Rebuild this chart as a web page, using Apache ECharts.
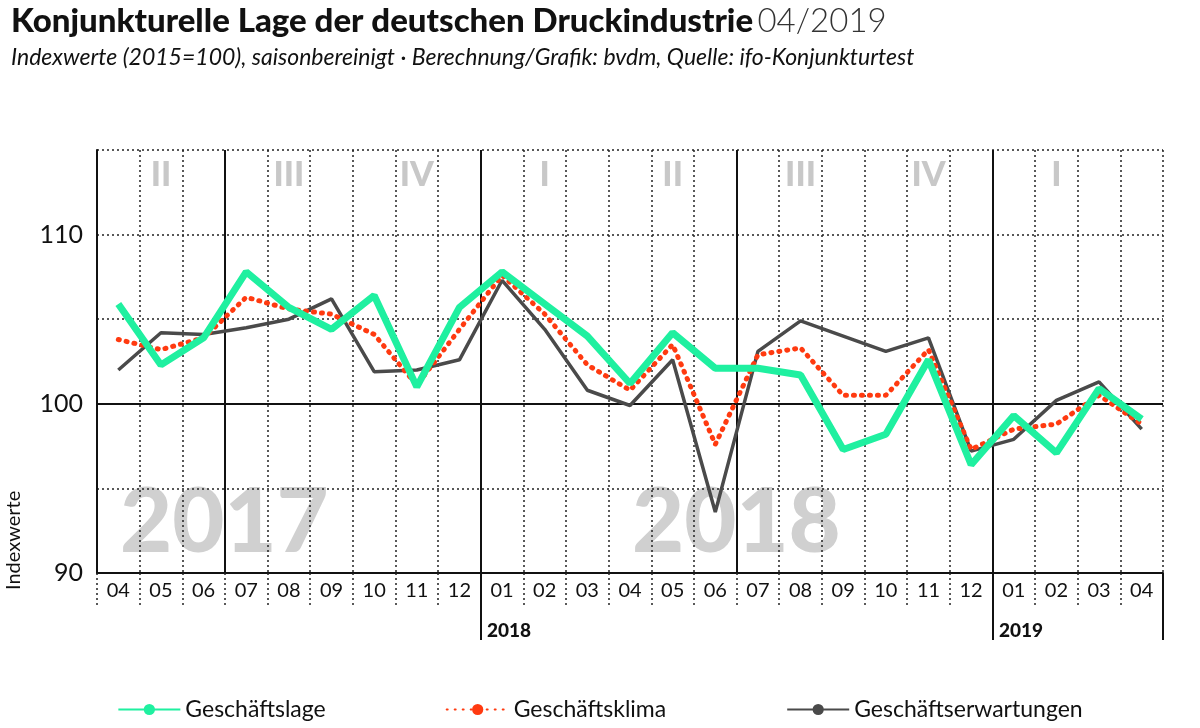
<!DOCTYPE html>
<html><head><meta charset="utf-8">
<script src="https://cdn.jsdelivr.net/npm/echarts@6/dist/echarts.min.js"></script>
<style>html,body{margin:0;background:#fff}#c{width:1200px;height:728px}</style></head>
<body><div id="c"></div>
<script>
const months=['04','05','06','07','08','09','10','11','12','01','02','03','04','05','06','07','08','09','10','11','12','01','02','03','04'];
const quarterLabels={1:'II',4:'III',7:'IV',10:'I',13:'II',16:'III',19:'IV',22:'I'};
const lage=[105.9,102.3,103.9,107.8,105.7,104.4,106.4,101.0,105.7,107.8,105.9,104.0,101.2,104.2,102.1,102.1,101.7,97.3,98.2,102.6,96.4,99.3,97.1,100.9,99.1];
const klima=[103.8,103.2,103.9,106.3,105.6,105.3,104.1,101.1,104.4,107.6,105.3,102.3,100.8,103.5,97.6,102.9,103.3,100.5,100.5,103.2,97.3,98.5,98.8,100.5,98.8];
const erw=[102.0,104.2,104.1,104.5,105.0,106.2,101.9,102.0,102.6,107.3,104.4,100.8,99.9,102.6,93.6,103.1,104.9,104.0,103.1,103.9,97.2,97.9,100.2,101.3,98.5];
const quarterBounds=[3,9,15,21];
const F='Lato, "Noto Sans", sans-serif';
const pts=a=>a.map((v,i)=>[i+0.5,v]);
const chart=echarts.init(document.getElementById('c'));
chart.setOption({
 animation:false,
 textStyle:{fontFamily:F},
 title:{left:6,top:0,text:'{b|Konjunkturelle Lage der deutschen Druckindustrie} {l|04/2019}',
  subtext:'Indexwerte (2015=100), saisonbereinigt · Berechnung/Grafik: bvdm, Quelle: ifo-Konjunkturtest',
  textStyle:{rich:{b:{fontSize:33,fontWeight:900,color:'#111',fontFamily:F},l:{fontSize:33,fontWeight:300,color:'#333',fontFamily:F}}},
  subtextStyle:{fontSize:23,fontStyle:'italic',color:'#111',fontFamily:F},itemGap:8},
 graphic:[
  {type:'text',left:120,top:478,z:0,style:{text:'2017',font:'900 90px '+F,fill:'#d0d0d0'}},
  {type:'text',left:632,top:478,z:0,style:{text:'2018',font:'900 90px '+F,fill:'#d0d0d0'}},
  {type:'text',left:487,top:621,style:{text:'2018',font:'900 19px '+F,fill:'#111'}},
  {type:'text',left:999,top:621,style:{text:'2019',font:'900 19px '+F,fill:'#111'}},
  {type:'text',x:4,y:590,rotation:Math.PI/2,style:{text:'Indexwerte',font:'20px '+F,fill:'#111',verticalAlign:'top'}}
 ],
 legend:{bottom:2,left:'center',itemGap:120,itemWidth:62,itemHeight:14,textStyle:{fontSize:23,color:'#111',fontFamily:F},
  data:['Geschäftslage','Geschäftsklima','Geschäftserwartungen']},
 grid:{left:97,right:37,top:150,bottom:155},
 xAxis:[
  {type:'value',min:0,max:25,interval:1,axisLabel:{show:false},axisTick:{show:false},
   axisLine:{show:false},splitLine:{show:true,lineStyle:{type:[2,3],color:'#222',width:1.5}}},
  {type:'category',data:months,position:'bottom',axisLine:{show:true,lineStyle:{color:'#111',width:2}},
   axisTick:{show:true,length:32,interval:0,lineStyle:{type:[2,3],color:'#222',width:1.5}},
   axisLabel:{fontSize:20,color:'#111',margin:8,interval:0}},
  {type:'category',data:months,position:'bottom',axisLine:{show:false},
   axisTick:{show:true,length:67,interval:i=>i===9||i===21,lineStyle:{color:'#111',width:2}},
   axisLabel:{show:false}},
  {type:'category',data:months,position:'top',axisLine:{show:false},axisTick:{show:false},
   axisLabel:{inside:true,interval:0,margin:8,fontSize:34,fontWeight:900,color:'#c8c8c8',formatter:(v,i)=>quarterLabels[i]||''}}
 ],
 yAxis:{type:'value',min:90,max:115,interval:5,
  axisLine:{show:true,lineStyle:{color:'#111',width:2}},axisTick:{show:false},
  axisLabel:{fontSize:25,color:'#111',margin:14,formatter:v=>v%10===0?v:''},
  splitLine:{lineStyle:{type:[2,3],color:'#222',width:1.5}}},
 series:[
  {name:'marks',type:'line',data:[],xAxisIndex:0,
   markLine:{symbol:'none',silent:true,label:{show:false},z:1,data:[
    ...quarterBounds.map(b=>({xAxis:b,lineStyle:{type:'solid',color:'#111',width:2}})),
    {yAxis:100,lineStyle:{type:'solid',color:'#111',width:2}}]}},
  {name:'Geschäftserwartungen',type:'line',data:pts(erw),symbol:'none',z:3,
   lineStyle:{color:'#4a4a4a',width:3.5},itemStyle:{color:'#4a4a4a'}},
  {name:'Geschäftsklima',type:'line',data:pts(klima),symbol:'none',z:4,
   lineStyle:{color:'#ff3a10',width:5,type:[1,7],cap:'round'},itemStyle:{color:'#ff3a10'}},
  {name:'Geschäftslage',type:'line',data:pts(lage),symbol:'none',z:5,
   lineStyle:{color:'#1ff0a0',width:7},itemStyle:{color:'#1ff0a0'}}
 ]
});
</script></body></html>
